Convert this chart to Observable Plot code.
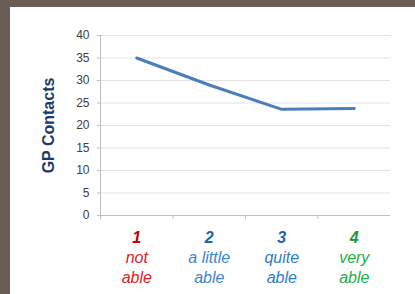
<!DOCTYPE html>
<html>
<head>
<meta charset="utf-8">
<script src="https://cdn.jsdelivr.net/npm/d3@7"></script>
<script src="https://cdn.jsdelivr.net/npm/@observablehq/plot@0.6"></script>
<style>
  html, body { margin: 0; padding: 0; background: #6b5d55; width: 415px; height: 294px; overflow: hidden; }
  #panel { position: absolute; left: 10px; top: 7px; width: 405px; height: 287px; background: #ffffff; }
  svg { font-family: "Liberation Sans", Arial, sans-serif; }
  g[aria-label="category-label"] text { font-style: italic; }
</style>
</head>
<body>
<div id="panel"></div>
<script>
const categories = ["1", "2", "3", "4"];
const wordLine1 = ["not", "a little", "quite", "very"];
const wordLine2 = ["able", "able", "able", "able"];
const gpContacts = [35, 29, 23.6, 23.8];
const yTicks = [0, 5, 10, 15, 20, 25, 30, 35, 40];
const numberColors = ["#c00000", "#1f62b4", "#1f62b4", "#179c3c"];
const wordColors = ["#dc2020", "#3a86d2", "#2c7cc8", "#22b04a"];
const yTitle = "GP Contacts";

const pos = (d, i) => i + 1;
const boundaries = categories.map((d, i) => i + 0.5);

const chart = Plot.plot({
  width: 405,
  height: 287,
  marginLeft: 90,
  marginRight: 25,
  marginTop: 28,
  marginBottom: 79,
  x: { domain: [0.5, 4.5], axis: null },
  y: { domain: [0, 40], axis: null },
  color: { type: "identity" },
  style: { fontFamily: "Liberation Sans, Arial, sans-serif", background: "transparent" },
  marks: [
    Plot.gridY(yTicks, { stroke: "#e3e3e3", strokeOpacity: 1 }),
    Plot.axisY({ ticks: yTicks, tickSize: 3, tickPadding: 8, fontSize: 12, color: "#404040", stroke: "#bfbfbf", label: null }),
    Plot.ruleX([0.5], { stroke: "#bfbfbf", insetBottom: -4 }),
    Plot.ruleY([0], { stroke: "#bfbfbf" }),
    Plot.ruleX(boundaries.slice(1), { y1: 0, y2: 0, stroke: "#bfbfbf", insetBottom: -4 }),
    Plot.lineY(gpContacts, { x: pos, y: d => d, stroke: "#4a7ebb", strokeWidth: 3 }),
    Plot.text(categories, { x: pos, y: () => 0, text: d => d, dy: 22, fill: (d, i) => numberColors[i], fontSize: 16, fontWeight: "bold", fontStyle: "italic", ariaLabel: "category-label" }),
    Plot.text(wordLine1, { x: pos, y: () => 0, text: d => d, dy: 42, fill: (d, i) => wordColors[i], fontSize: 16, fontStyle: "italic", ariaLabel: "category-label" }),
    Plot.text(wordLine2, { x: pos, y: () => 0, text: d => d, dy: 62, fill: (d, i) => wordColors[i], fontSize: 16, fontStyle: "italic", ariaLabel: "category-label" }),
    Plot.text([yTitle], { frameAnchor: "left", textAnchor: "middle", text: d => d, rotate: -90, dx: -52, fill: "#1b3a6b", fontSize: 16, fontWeight: "bold" })
  ]
});
d3.select(chart).selectAll('g[aria-label="category-label"] text').style("font-style", "italic");
document.getElementById("panel").appendChild(chart);
</script>
</body>
</html>
